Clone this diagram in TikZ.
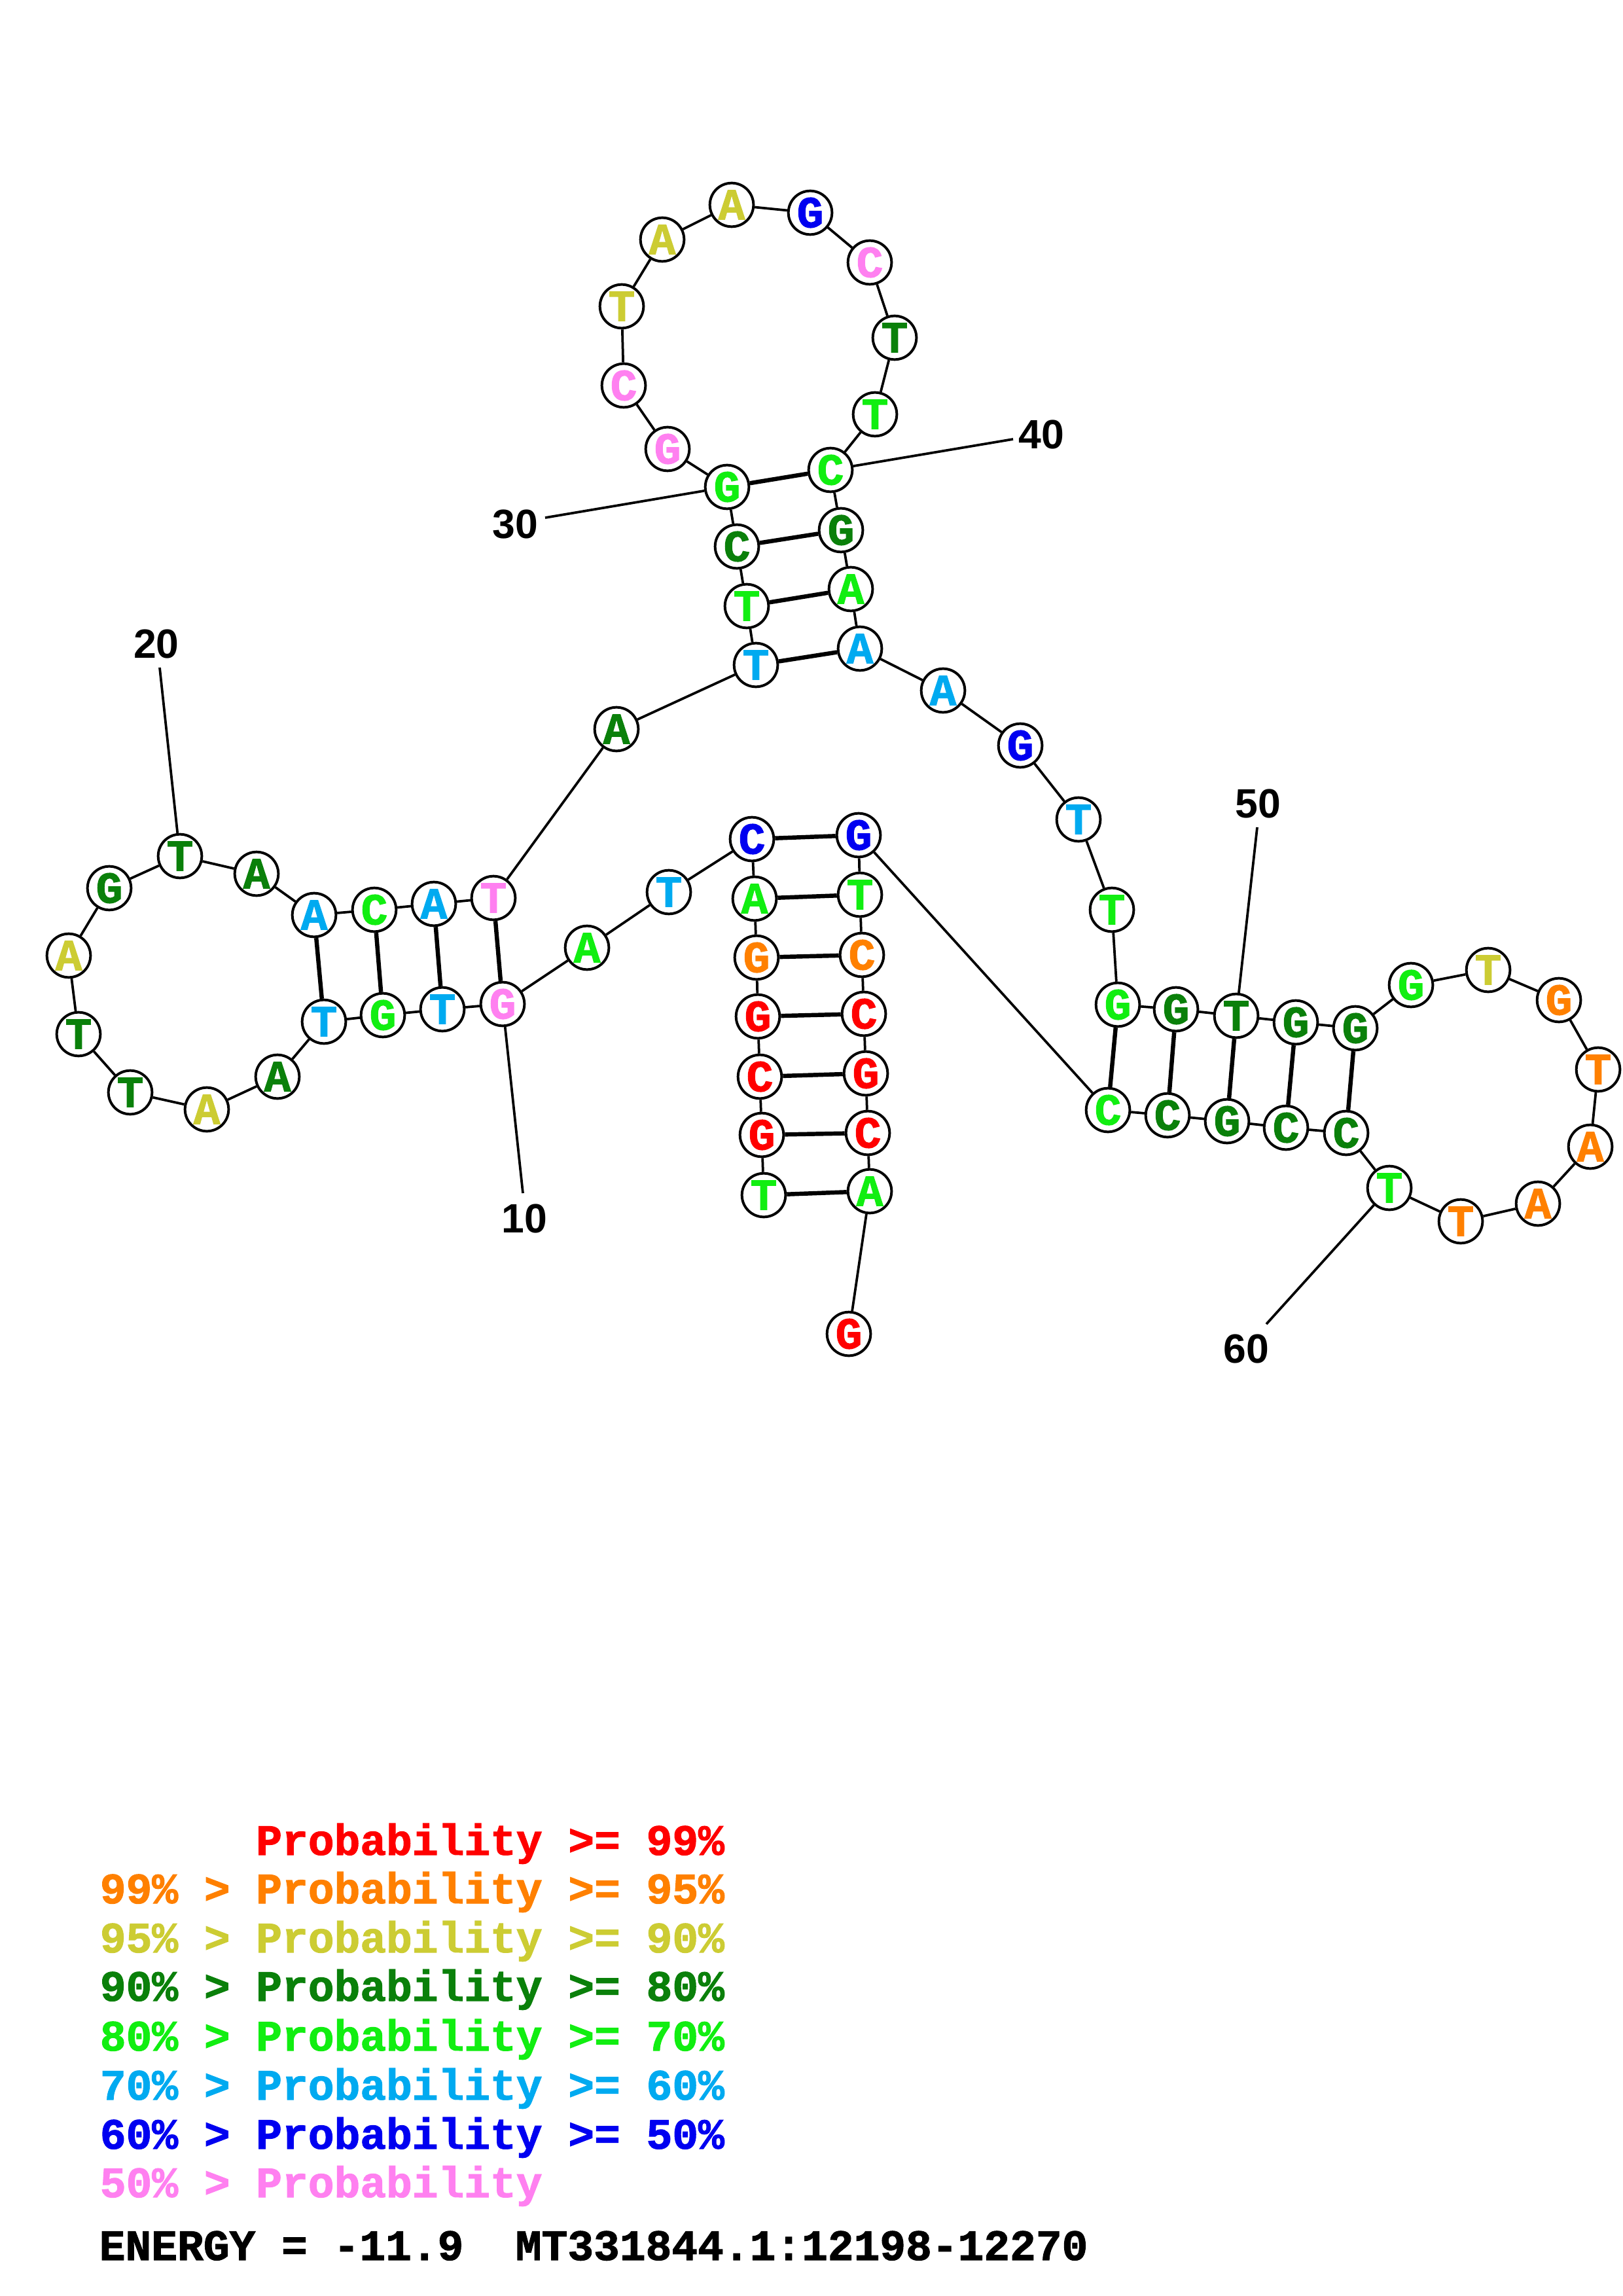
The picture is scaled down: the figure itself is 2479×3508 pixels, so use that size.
\documentclass[tikz,border=0pt]{standalone}
\usepackage{fontspec}
\setmainfont{Liberation Sans}
\setsansfont{Liberation Sans}
\setmonofont{Liberation Mono}
\newfontfamily\ntfont{Liberation Mono}[BoldFeatures={FakeBold=1.6}]
\definecolor{cR}{HTML}{FF0000}
\definecolor{cO}{HTML}{FF8000}
\definecolor{cY}{HTML}{CCCC33}
\definecolor{cD}{HTML}{0A800A}
\definecolor{cL}{HTML}{11EE11}
\definecolor{cS}{HTML}{00AAF0}
\definecolor{cB}{HTML}{0000F0}
\definecolor{cP}{HTML}{FF80F0}
\tikzset{
  nt/.style={circle, draw=black, fill=white, line width=0.95pt, minimum size=16pt, inner sep=0pt,
    font=\ntfont\bfseries\fontsize{16.3}{16.3}\selectfont},
  bb/.style={line width=0.9pt, black},
  bp/.style={line width=1.55pt, black},
  lab/.style={font=\sffamily\bfseries\fontsize{15}{15}\selectfont, inner sep=0pt},
  leg/.style={font=\ntfont\bfseries\fontsize{15.9}{15.9}\selectfont, anchor=base west, inner sep=0pt}
}
\begin{document}
\begin{tikzpicture}[x=0.24pt, y=-0.24pt]
\useasboundingbox (0,0) rectangle (2479,3508);
\fill[white] (0,0) rectangle (2479,3508);
% nucleotides
\foreach \n/\c/\t/\x/\y in {
1/cL/T/1167/1826, 2/cR/G/1164/1734, 3/cR/C/1161/1645, 4/cR/G/1158/1553, 5/cO/G/1156/1463,
6/cL/A/1153/1373, 7/cB/C/1149/1282, 8/cS/T/1022/1363, 9/cL/A/897/1448, 10/cP/G/768/1534,
11/cS/T/676/1542, 12/cL/G/585/1551, 13/cS/T/495/1561, 14/cD/A/424/1645, 15/cY/A/316/1695,
16/cD/T/199/1669, 17/cD/T/120/1580, 18/cY/A/105/1460, 19/cD/G/167/1357, 20/cD/T/275/1308,
21/cD/A/392/1335, 22/cS/A/480/1398, 23/cL/C/572/1390, 24/cS/A/663/1381, 25/cP/T/754/1372,
26/cD/A/942/1114, 27/cS/T/1155/1016, 28/cL/T/1141/926, 29/cD/C/1126/835, 30/cL/G/1111/744,
31/cP/G/1020/686, 32/cP/C/953/589, 33/cY/T/950/468, 34/cY/A/1012/366, 35/cY/A/1118/313,
36/cB/G/1238/325, 37/cP/C/1329/401, 38/cD/T/1367/516, 39/cL/T/1337/633, 40/cL/C/1269/718,
41/cD/G/1285/810, 42/cL/A/1300/900, 43/cS/A/1314/991, 44/cS/A/1441/1055, 45/cB/G/1559/1139,
46/cS/T/1648/1252, 47/cL/T/1699/1390, 48/cL/G/1708/1535, 49/cD/G/1797/1542, 50/cD/T/1889/1552,
51/cD/G/1980/1562, 52/cD/G/2071/1571, 53/cL/G/2156/1505, 54/cY/T/2274/1482, 55/cO/G/2382/1528,
56/cO/T/2442/1634, 57/cO/A/2430/1752, 58/cO/A/2350/1839, 59/cO/T/2232/1866, 60/cL/T/2123/1815,
61/cD/C/2057/1731, 62/cD/C/1965/1723, 63/cD/G/1875/1713, 64/cD/C/1784/1704, 65/cL/C/1693/1696,
66/cB/G/1312/1276, 67/cL/T/1314/1367, 68/cO/C/1317/1459, 69/cR/C/1320/1549, 70/cR/G/1323/1640,
71/cR/C/1326/1731, 72/cL/A/1329/1820, 73/cR/G/1297/2038}
  \node[nt, text=\c] (n\n) at (\x,\y) {\t};
% backbone
\foreach \i [evaluate=\i as \j using {int(\i+1)}] in {1,...,72}
  \draw[bb] (n\i) -- (n\j);
% base pairs
\foreach \a/\b in {1/72,2/71,3/70,4/69,5/68,6/67,7/66,10/25,11/24,12/23,13/22,
  27/43,28/42,29/41,30/40,48/65,49/64,50/63,51/62,52/61}
  \draw[bp] (n\a) -- (n\b);
% numbering
\coordinate (e10) at (799,1823);
\coordinate (e20) at (244,1020);
\coordinate (e30) at (833,791);
\coordinate (e40) at (1548,671);
\coordinate (e50) at (1921,1264);
\coordinate (e60) at (1935,2023);
\foreach \k in {10,20,30,40,50,60}
  \draw[bb] (n\k) -- (e\k);
\node[lab] (l10) at (801,1862) {10};
\node[lab] (l20) at (239,984) {20};
\node[lab] (l30) at (787,801) {30};
\node[lab] (l40) at (1591,664) {40};
\node[lab] (l50) at (1922,1228) {50};
\node[lab] (l60) at (1904,2061) {60};
% legend
\node[leg, text=cR] (g1) at (152,2834) {\phantom{99\% > }Probability >= 99\%};
\node[leg, text=cO] (g2) at (152,2908) {99\% > Probability >= 95\%};
\node[leg, text=cY] (g3) at (152,2983) {95\% > Probability >= 90\%};
\node[leg, text=cD] (g4) at (152,3057) {90\% > Probability >= 80\%};
\node[leg, text=cL] (g5) at (152,3133) {80\% > Probability >= 70\%};
\node[leg, text=cS] (g6) at (152,3208) {70\% > Probability >= 60\%};
\node[leg, text=cB] (g7) at (152,3283) {60\% > Probability >= 50\%};
\node[leg, text=cP] (g8) at (152,3357) {50\% > Probability};
\node[leg, text=black] (en) at (151,3453) {ENERGY = -11.9\ \ MT331844.1:12198-12270};
\end{tikzpicture}
\end{document}
